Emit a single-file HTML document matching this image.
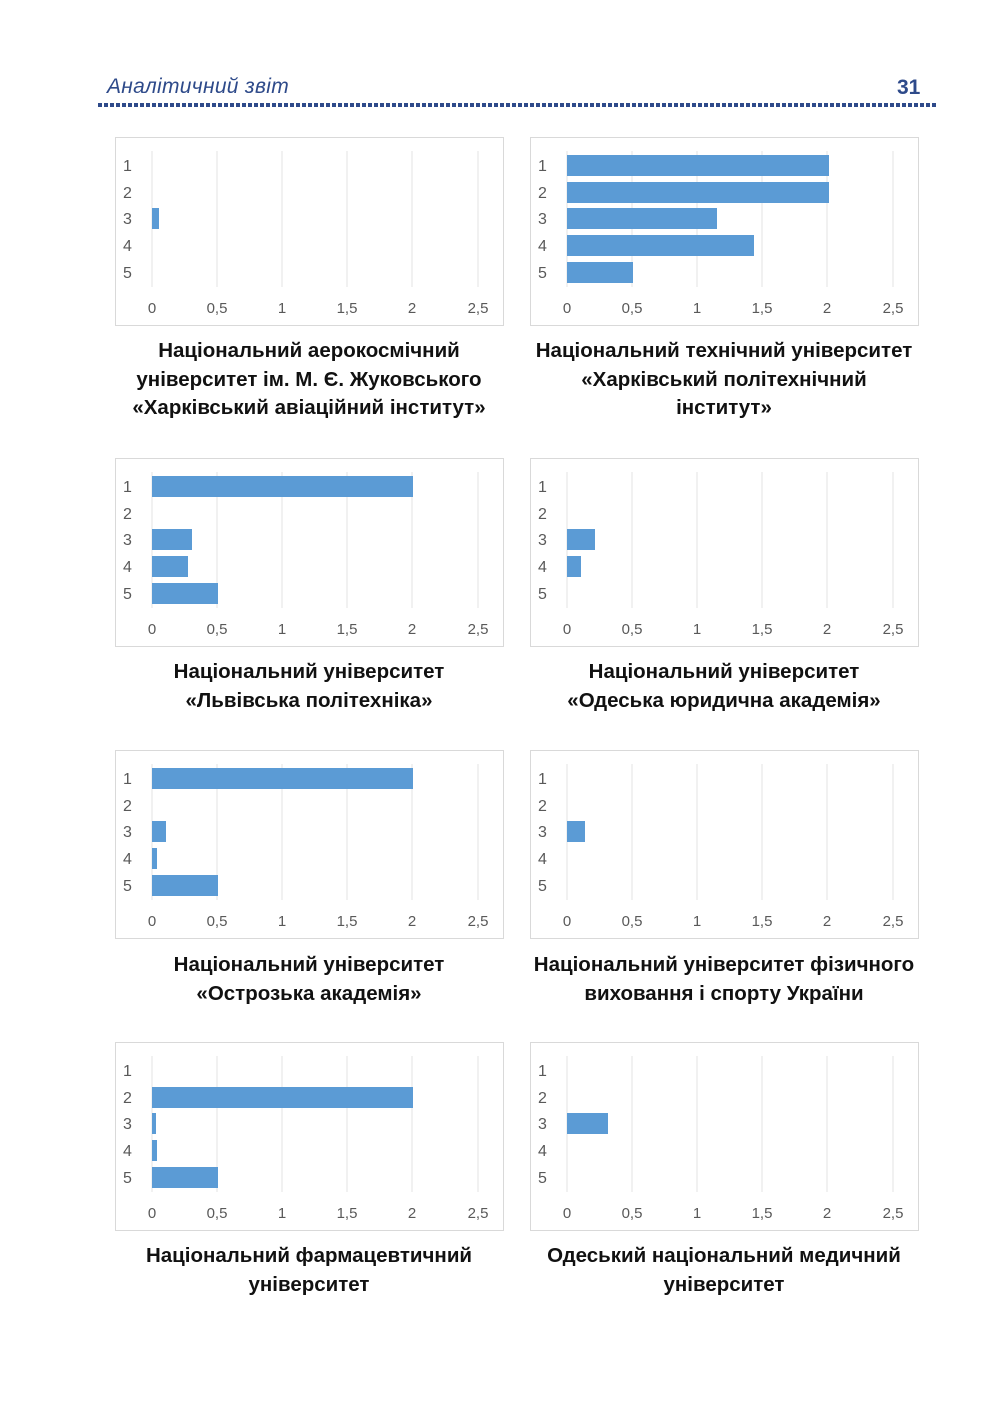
<!DOCTYPE html>
<html><head><meta charset="utf-8"><style>
body{margin:0;background:#fff;width:1000px;height:1418px;position:relative;overflow:hidden;font-family:"Liberation Sans",sans-serif}
.hdr{position:absolute;left:107px;top:75px;font-size:21px;font-style:italic;color:#2e4a8a;letter-spacing:0.3px}
.pn{position:absolute;left:897px;top:76px;font-size:21px;font-weight:bold;color:#2e4a8a}
.dots{position:absolute;left:98px;top:103px;width:840px;height:4px;background:repeating-linear-gradient(90deg,#2e4a8a 0 4px,transparent 4px 6px)}
svg.c{position:absolute;width:389px;height:189px}
.cap{position:absolute;width:440px;text-align:center;font-weight:bold;font-size:20.5px;line-height:28.5px;color:#111;white-space:nowrap}
svg text{font-family:"Liberation Sans",sans-serif;font-size:15px;fill:#595959}
svg text.r{font-size:16px}
</style></head><body>
<div class="hdr">Аналітичний звіт</div>
<div class="pn">31</div>
<div class="dots"></div>

<svg width="0" height="0" style="position:absolute"><defs>
<g id="frame">
<rect x="0.5" y="0.5" width="388" height="188" fill="#fff" stroke="#d9d9d9"/>
<g stroke="#e3e3e3" stroke-width="1"><line x1="37" y1="14" x2="37" y2="150"/><line x1="102" y1="14" x2="102" y2="150"/><line x1="167" y1="14" x2="167" y2="150"/><line x1="232" y1="14" x2="232" y2="150"/><line x1="297" y1="14" x2="297" y2="150"/><line x1="363" y1="14" x2="363" y2="150"/></g>
</g></defs></svg>

<!-- chart 1 -->
<svg class="c" style="left:115px;top:137px"><use href="#frame"/>
<rect x="37" y="71" width="7" height="21" fill="#5b9bd5"/>
<text class="r" x="8" y="34">1</text><text class="r" x="8" y="61">2</text><text class="r" x="8" y="87">3</text><text class="r" x="8" y="114">4</text><text class="r" x="8" y="141">5</text>
<text x="37" y="176" text-anchor="middle">0</text><text x="102" y="176" text-anchor="middle">0,5</text><text x="167" y="176" text-anchor="middle">1</text><text x="232" y="176" text-anchor="middle">1,5</text><text x="297" y="176" text-anchor="middle">2</text><text x="363" y="176" text-anchor="middle">2,5</text></svg>
<div class="cap" style="left:89px;top:337px">Національний аерокосмічний<br>університет ім. М. Є. Жуковського<br>«Харківський авіаційний інститут»</div>

<!-- chart 2 -->
<svg class="c" style="left:530px;top:137px"><use href="#frame"/>
<g fill="#5b9bd5"><rect x="37" y="18" width="262" height="21"/><rect x="37" y="45" width="262" height="21"/><rect x="37" y="71" width="150" height="21"/><rect x="37" y="98" width="187" height="21"/><rect x="37" y="125" width="66" height="21"/></g>
<text class="r" x="8" y="34">1</text><text class="r" x="8" y="61">2</text><text class="r" x="8" y="87">3</text><text class="r" x="8" y="114">4</text><text class="r" x="8" y="141">5</text>
<text x="37" y="176" text-anchor="middle">0</text><text x="102" y="176" text-anchor="middle">0,5</text><text x="167" y="176" text-anchor="middle">1</text><text x="232" y="176" text-anchor="middle">1,5</text><text x="297" y="176" text-anchor="middle">2</text><text x="363" y="176" text-anchor="middle">2,5</text></svg>
<div class="cap" style="left:504px;top:337px">Національний технічний університет<br>«Харківський політехнічний<br>інститут»</div>

<!-- chart 3 -->
<svg class="c" style="left:115px;top:458px"><use href="#frame"/>
<g fill="#5b9bd5"><rect x="37" y="18" width="261" height="21"/><rect x="37" y="71" width="40" height="21"/><rect x="37" y="98" width="36" height="21"/><rect x="37" y="125" width="66" height="21"/></g>
<text class="r" x="8" y="34">1</text><text class="r" x="8" y="61">2</text><text class="r" x="8" y="87">3</text><text class="r" x="8" y="114">4</text><text class="r" x="8" y="141">5</text>
<text x="37" y="176" text-anchor="middle">0</text><text x="102" y="176" text-anchor="middle">0,5</text><text x="167" y="176" text-anchor="middle">1</text><text x="232" y="176" text-anchor="middle">1,5</text><text x="297" y="176" text-anchor="middle">2</text><text x="363" y="176" text-anchor="middle">2,5</text></svg>
<div class="cap" style="left:89px;top:658px">Національний університет<br>«Львівська політехніка»</div>

<!-- chart 4 -->
<svg class="c" style="left:530px;top:458px"><use href="#frame"/>
<g fill="#5b9bd5"><rect x="37" y="71" width="28" height="21"/><rect x="37" y="98" width="14" height="21"/></g>
<text class="r" x="8" y="34">1</text><text class="r" x="8" y="61">2</text><text class="r" x="8" y="87">3</text><text class="r" x="8" y="114">4</text><text class="r" x="8" y="141">5</text>
<text x="37" y="176" text-anchor="middle">0</text><text x="102" y="176" text-anchor="middle">0,5</text><text x="167" y="176" text-anchor="middle">1</text><text x="232" y="176" text-anchor="middle">1,5</text><text x="297" y="176" text-anchor="middle">2</text><text x="363" y="176" text-anchor="middle">2,5</text></svg>
<div class="cap" style="left:504px;top:658px">Національний університет<br>«Одеська юридична академія»</div>

<!-- chart 5 -->
<svg class="c" style="left:115px;top:750px"><use href="#frame"/>
<g fill="#5b9bd5"><rect x="37" y="18" width="261" height="21"/><rect x="37" y="71" width="14" height="21"/><rect x="37" y="98" width="5" height="21"/><rect x="37" y="125" width="66" height="21"/></g>
<text class="r" x="8" y="34">1</text><text class="r" x="8" y="61">2</text><text class="r" x="8" y="87">3</text><text class="r" x="8" y="114">4</text><text class="r" x="8" y="141">5</text>
<text x="37" y="176" text-anchor="middle">0</text><text x="102" y="176" text-anchor="middle">0,5</text><text x="167" y="176" text-anchor="middle">1</text><text x="232" y="176" text-anchor="middle">1,5</text><text x="297" y="176" text-anchor="middle">2</text><text x="363" y="176" text-anchor="middle">2,5</text></svg>
<div class="cap" style="left:89px;top:951px">Національний університет<br>«Острозька академія»</div>

<!-- chart 6 -->
<svg class="c" style="left:530px;top:750px"><use href="#frame"/>
<rect x="37" y="71" width="18" height="21" fill="#5b9bd5"/>
<text class="r" x="8" y="34">1</text><text class="r" x="8" y="61">2</text><text class="r" x="8" y="87">3</text><text class="r" x="8" y="114">4</text><text class="r" x="8" y="141">5</text>
<text x="37" y="176" text-anchor="middle">0</text><text x="102" y="176" text-anchor="middle">0,5</text><text x="167" y="176" text-anchor="middle">1</text><text x="232" y="176" text-anchor="middle">1,5</text><text x="297" y="176" text-anchor="middle">2</text><text x="363" y="176" text-anchor="middle">2,5</text></svg>
<div class="cap" style="left:504px;top:951px">Національний університет фізичного<br>виховання і спорту України</div>

<!-- chart 7 -->
<svg class="c" style="left:115px;top:1042px"><use href="#frame"/>
<g fill="#5b9bd5"><rect x="37" y="45" width="261" height="21"/><rect x="37" y="71" width="4" height="21"/><rect x="37" y="98" width="5" height="21"/><rect x="37" y="125" width="66" height="21"/></g>
<text class="r" x="8" y="34">1</text><text class="r" x="8" y="61">2</text><text class="r" x="8" y="87">3</text><text class="r" x="8" y="114">4</text><text class="r" x="8" y="141">5</text>
<text x="37" y="176" text-anchor="middle">0</text><text x="102" y="176" text-anchor="middle">0,5</text><text x="167" y="176" text-anchor="middle">1</text><text x="232" y="176" text-anchor="middle">1,5</text><text x="297" y="176" text-anchor="middle">2</text><text x="363" y="176" text-anchor="middle">2,5</text></svg>
<div class="cap" style="left:89px;top:1242px">Національний фармацевтичний<br>університет</div>

<!-- chart 8 -->
<svg class="c" style="left:530px;top:1042px"><use href="#frame"/>
<rect x="37" y="71" width="41" height="21" fill="#5b9bd5"/>
<text class="r" x="8" y="34">1</text><text class="r" x="8" y="61">2</text><text class="r" x="8" y="87">3</text><text class="r" x="8" y="114">4</text><text class="r" x="8" y="141">5</text>
<text x="37" y="176" text-anchor="middle">0</text><text x="102" y="176" text-anchor="middle">0,5</text><text x="167" y="176" text-anchor="middle">1</text><text x="232" y="176" text-anchor="middle">1,5</text><text x="297" y="176" text-anchor="middle">2</text><text x="363" y="176" text-anchor="middle">2,5</text></svg>
<div class="cap" style="left:504px;top:1242px">Одеський національний медичний<br>університет</div>
</body></html>
